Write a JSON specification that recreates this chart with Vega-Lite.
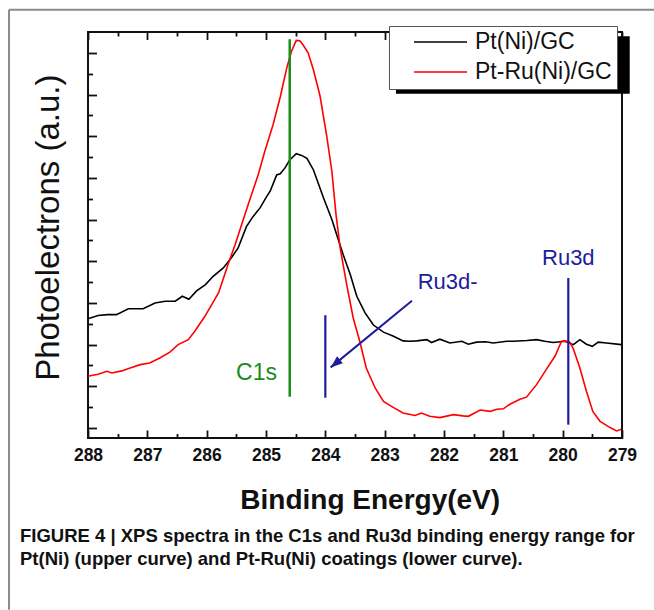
{
  "$schema": "https://vega.github.io/schema/vega-lite/v6.json",
  "width": 534,
  "height": 406,
  "autosize": {"type": "none"},
  "padding": {"left": 88, "top": 32, "right": 32, "bottom": 172},
  "background": "white",
  "config": {
    "view": {"stroke": "#111111", "strokeWidth": 2},
    "font": "Liberation Sans"
  },
  "title": {
    "text": ["FIGURE 4 | XPS spectra in the C1s and Ru3d binding energy range for", "Pt(Ni) (upper curve) and Pt-Ru(Ni) coatings (lower curve)."],
    "orient": "bottom",
    "anchor": "start",
    "frame": "group",
    "align": "left",
    "baseline": "top",
    "dx": -68,
    "offset": -84,
    "font": "Liberation Sans",
    "fontSize": 18.5,
    "fontWeight": "bold",
    "color": "#111111",
    "lineHeight": 23
  },
  "datasets": {
    "spectra": [
      {"E": 288.00, "I": 2.62, "s": "Pt(Ni)/GC"},
      {"E": 287.83, "I": 2.70, "s": "Pt(Ni)/GC"},
      {"E": 287.67, "I": 2.72, "s": "Pt(Ni)/GC"},
      {"E": 287.52, "I": 2.72, "s": "Pt(Ni)/GC"},
      {"E": 287.32, "I": 2.86, "s": "Pt(Ni)/GC"},
      {"E": 287.07, "I": 2.86, "s": "Pt(Ni)/GC"},
      {"E": 286.87, "I": 3.00, "s": "Pt(Ni)/GC"},
      {"E": 286.70, "I": 3.04, "s": "Pt(Ni)/GC"},
      {"E": 286.53, "I": 3.04, "s": "Pt(Ni)/GC"},
      {"E": 286.41, "I": 3.16, "s": "Pt(Ni)/GC"},
      {"E": 286.30, "I": 3.09, "s": "Pt(Ni)/GC"},
      {"E": 286.17, "I": 3.29, "s": "Pt(Ni)/GC"},
      {"E": 286.02, "I": 3.44, "s": "Pt(Ni)/GC"},
      {"E": 285.89, "I": 3.64, "s": "Pt(Ni)/GC"},
      {"E": 285.72, "I": 3.84, "s": "Pt(Ni)/GC"},
      {"E": 285.58, "I": 4.09, "s": "Pt(Ni)/GC"},
      {"E": 285.47, "I": 4.32, "s": "Pt(Ni)/GC"},
      {"E": 285.33, "I": 4.83, "s": "Pt(Ni)/GC"},
      {"E": 285.22, "I": 5.07, "s": "Pt(Ni)/GC"},
      {"E": 285.10, "I": 5.28, "s": "Pt(Ni)/GC"},
      {"E": 284.99, "I": 5.55, "s": "Pt(Ni)/GC"},
      {"E": 284.93, "I": 5.68, "s": "Pt(Ni)/GC"},
      {"E": 284.82, "I": 6.07, "s": "Pt(Ni)/GC"},
      {"E": 284.76, "I": 6.10, "s": "Pt(Ni)/GC"},
      {"E": 284.68, "I": 6.24, "s": "Pt(Ni)/GC"},
      {"E": 284.60, "I": 6.43, "s": "Pt(Ni)/GC"},
      {"E": 284.49, "I": 6.58, "s": "Pt(Ni)/GC"},
      {"E": 284.40, "I": 6.54, "s": "Pt(Ni)/GC"},
      {"E": 284.31, "I": 6.47, "s": "Pt(Ni)/GC"},
      {"E": 284.20, "I": 6.19, "s": "Pt(Ni)/GC"},
      {"E": 284.03, "I": 5.52, "s": "Pt(Ni)/GC"},
      {"E": 283.89, "I": 5.00, "s": "Pt(Ni)/GC"},
      {"E": 283.80, "I": 4.60, "s": "Pt(Ni)/GC"},
      {"E": 283.70, "I": 4.16, "s": "Pt(Ni)/GC"},
      {"E": 283.58, "I": 3.68, "s": "Pt(Ni)/GC"},
      {"E": 283.47, "I": 3.16, "s": "Pt(Ni)/GC"},
      {"E": 283.33, "I": 2.76, "s": "Pt(Ni)/GC"},
      {"E": 283.19, "I": 2.47, "s": "Pt(Ni)/GC"},
      {"E": 283.02, "I": 2.30, "s": "Pt(Ni)/GC"},
      {"E": 282.85, "I": 2.20, "s": "Pt(Ni)/GC"},
      {"E": 282.69, "I": 2.09, "s": "Pt(Ni)/GC"},
      {"E": 282.58, "I": 2.08, "s": "Pt(Ni)/GC"},
      {"E": 282.46, "I": 2.09, "s": "Pt(Ni)/GC"},
      {"E": 282.29, "I": 2.12, "s": "Pt(Ni)/GC"},
      {"E": 282.21, "I": 2.05, "s": "Pt(Ni)/GC"},
      {"E": 282.07, "I": 2.13, "s": "Pt(Ni)/GC"},
      {"E": 281.90, "I": 2.04, "s": "Pt(Ni)/GC"},
      {"E": 281.70, "I": 2.08, "s": "Pt(Ni)/GC"},
      {"E": 281.59, "I": 2.01, "s": "Pt(Ni)/GC"},
      {"E": 281.45, "I": 2.06, "s": "Pt(Ni)/GC"},
      {"E": 281.30, "I": 2.07, "s": "Pt(Ni)/GC"},
      {"E": 281.17, "I": 2.04, "s": "Pt(Ni)/GC"},
      {"E": 280.94, "I": 2.08, "s": "Pt(Ni)/GC"},
      {"E": 280.83, "I": 2.08, "s": "Pt(Ni)/GC"},
      {"E": 280.60, "I": 2.10, "s": "Pt(Ni)/GC"},
      {"E": 280.44, "I": 2.12, "s": "Pt(Ni)/GC"},
      {"E": 280.30, "I": 2.08, "s": "Pt(Ni)/GC"},
      {"E": 280.16, "I": 2.05, "s": "Pt(Ni)/GC"},
      {"E": 279.96, "I": 2.08, "s": "Pt(Ni)/GC"},
      {"E": 279.82, "I": 2.00, "s": "Pt(Ni)/GC"},
      {"E": 279.71, "I": 2.12, "s": "Pt(Ni)/GC"},
      {"E": 279.60, "I": 2.01, "s": "Pt(Ni)/GC"},
      {"E": 279.50, "I": 1.96, "s": "Pt(Ni)/GC"},
      {"E": 279.40, "I": 2.06, "s": "Pt(Ni)/GC"},
      {"E": 279.26, "I": 2.04, "s": "Pt(Ni)/GC"},
      {"E": 279.01, "I": 2.00, "s": "Pt(Ni)/GC"},
      {"E": 288.00, "I": 1.24, "s": "Pt-Ru(Ni)/GC"},
      {"E": 287.83, "I": 1.29, "s": "Pt-Ru(Ni)/GC"},
      {"E": 287.68, "I": 1.36, "s": "Pt-Ru(Ni)/GC"},
      {"E": 287.60, "I": 1.32, "s": "Pt-Ru(Ni)/GC"},
      {"E": 287.43, "I": 1.37, "s": "Pt-Ru(Ni)/GC"},
      {"E": 287.29, "I": 1.44, "s": "Pt-Ru(Ni)/GC"},
      {"E": 287.12, "I": 1.52, "s": "Pt-Ru(Ni)/GC"},
      {"E": 286.96, "I": 1.56, "s": "Pt-Ru(Ni)/GC"},
      {"E": 286.79, "I": 1.68, "s": "Pt-Ru(Ni)/GC"},
      {"E": 286.62, "I": 1.82, "s": "Pt-Ru(Ni)/GC"},
      {"E": 286.48, "I": 2.00, "s": "Pt-Ru(Ni)/GC"},
      {"E": 286.31, "I": 2.12, "s": "Pt-Ru(Ni)/GC"},
      {"E": 286.20, "I": 2.32, "s": "Pt-Ru(Ni)/GC"},
      {"E": 286.03, "I": 2.68, "s": "Pt-Ru(Ni)/GC"},
      {"E": 285.80, "I": 3.24, "s": "Pt-Ru(Ni)/GC"},
      {"E": 285.64, "I": 3.92, "s": "Pt-Ru(Ni)/GC"},
      {"E": 285.52, "I": 4.40, "s": "Pt-Ru(Ni)/GC"},
      {"E": 285.30, "I": 5.36, "s": "Pt-Ru(Ni)/GC"},
      {"E": 285.13, "I": 6.08, "s": "Pt-Ru(Ni)/GC"},
      {"E": 285.02, "I": 6.64, "s": "Pt-Ru(Ni)/GC"},
      {"E": 284.88, "I": 7.28, "s": "Pt-Ru(Ni)/GC"},
      {"E": 284.76, "I": 7.94, "s": "Pt-Ru(Ni)/GC"},
      {"E": 284.65, "I": 8.64, "s": "Pt-Ru(Ni)/GC"},
      {"E": 284.57, "I": 9.04, "s": "Pt-Ru(Ni)/GC"},
      {"E": 284.49, "I": 9.30, "s": "Pt-Ru(Ni)/GC"},
      {"E": 284.43, "I": 9.29, "s": "Pt-Ru(Ni)/GC"},
      {"E": 284.38, "I": 9.20, "s": "Pt-Ru(Ni)/GC"},
      {"E": 284.29, "I": 9.00, "s": "Pt-Ru(Ni)/GC"},
      {"E": 284.20, "I": 8.59, "s": "Pt-Ru(Ni)/GC"},
      {"E": 284.09, "I": 7.97, "s": "Pt-Ru(Ni)/GC"},
      {"E": 283.98, "I": 7.04, "s": "Pt-Ru(Ni)/GC"},
      {"E": 283.89, "I": 6.16, "s": "Pt-Ru(Ni)/GC"},
      {"E": 283.82, "I": 5.12, "s": "Pt-Ru(Ni)/GC"},
      {"E": 283.75, "I": 4.32, "s": "Pt-Ru(Ni)/GC"},
      {"E": 283.64, "I": 3.44, "s": "Pt-Ru(Ni)/GC"},
      {"E": 283.53, "I": 2.64, "s": "Pt-Ru(Ni)/GC"},
      {"E": 283.42, "I": 2.08, "s": "Pt-Ru(Ni)/GC"},
      {"E": 283.31, "I": 1.44, "s": "Pt-Ru(Ni)/GC"},
      {"E": 283.16, "I": 0.96, "s": "Pt-Ru(Ni)/GC"},
      {"E": 283.02, "I": 0.64, "s": "Pt-Ru(Ni)/GC"},
      {"E": 282.85, "I": 0.49, "s": "Pt-Ru(Ni)/GC"},
      {"E": 282.69, "I": 0.36, "s": "Pt-Ru(Ni)/GC"},
      {"E": 282.49, "I": 0.30, "s": "Pt-Ru(Ni)/GC"},
      {"E": 282.38, "I": 0.36, "s": "Pt-Ru(Ni)/GC"},
      {"E": 282.24, "I": 0.28, "s": "Pt-Ru(Ni)/GC"},
      {"E": 282.07, "I": 0.25, "s": "Pt-Ru(Ni)/GC"},
      {"E": 281.84, "I": 0.32, "s": "Pt-Ru(Ni)/GC"},
      {"E": 281.68, "I": 0.29, "s": "Pt-Ru(Ni)/GC"},
      {"E": 281.59, "I": 0.28, "s": "Pt-Ru(Ni)/GC"},
      {"E": 281.39, "I": 0.43, "s": "Pt-Ru(Ni)/GC"},
      {"E": 281.22, "I": 0.40, "s": "Pt-Ru(Ni)/GC"},
      {"E": 281.11, "I": 0.45, "s": "Pt-Ru(Ni)/GC"},
      {"E": 281.00, "I": 0.46, "s": "Pt-Ru(Ni)/GC"},
      {"E": 280.89, "I": 0.57, "s": "Pt-Ru(Ni)/GC"},
      {"E": 280.72, "I": 0.69, "s": "Pt-Ru(Ni)/GC"},
      {"E": 280.61, "I": 0.74, "s": "Pt-Ru(Ni)/GC"},
      {"E": 280.44, "I": 1.04, "s": "Pt-Ru(Ni)/GC"},
      {"E": 280.27, "I": 1.42, "s": "Pt-Ru(Ni)/GC"},
      {"E": 280.13, "I": 1.72, "s": "Pt-Ru(Ni)/GC"},
      {"E": 280.02, "I": 2.08, "s": "Pt-Ru(Ni)/GC"},
      {"E": 279.96, "I": 2.09, "s": "Pt-Ru(Ni)/GC"},
      {"E": 279.88, "I": 2.06, "s": "Pt-Ru(Ni)/GC"},
      {"E": 279.82, "I": 1.90, "s": "Pt-Ru(Ni)/GC"},
      {"E": 279.71, "I": 1.44, "s": "Pt-Ru(Ni)/GC"},
      {"E": 279.60, "I": 0.88, "s": "Pt-Ru(Ni)/GC"},
      {"E": 279.49, "I": 0.39, "s": "Pt-Ru(Ni)/GC"},
      {"E": 279.37, "I": 0.16, "s": "Pt-Ru(Ni)/GC"},
      {"E": 279.20, "I": 0.01, "s": "Pt-Ru(Ni)/GC"},
      {"E": 279.09, "I": -0.07, "s": "Pt-Ru(Ni)/GC"},
      {"E": 279.01, "I": -0.03, "s": "Pt-Ru(Ni)/GC"}
    ],
    "frame": [
      {"E": 289.331, "E2": 289.331, "I": 10.035, "I2": -4.36},
      {"E": 289.331, "E2": 278.46, "I": 10.035, "I2": 10.035}
    ],
    "shadow": [
      {"E": 282.81, "E2": 278.87, "I": 8.02, "I2": 9.4}
    ],
    "c1s": [
      {"E": 284.6, "I": 9.327, "I2": 0.751}
    ],
    "ru": [
      {"E": 284.0, "I": 2.706, "I2": 0.727},
      {"E": 279.905, "I": 3.598, "I2": 0.079}
    ],
    "arrow": [
      {"E": 282.54, "I": 3.054, "E2": 283.91, "I2": 1.454}
    ],
    "head": [
      {"E": 283.91, "I": 1.454}
    ],
    "labC": [
      {"E": 284.815, "I": 1.159, "t": "C1s"}
    ],
    "labRuMinus": [
      {"E": 282.443, "I": 3.334, "t": "Ru3d-"}
    ],
    "labRu": [
      {"E": 279.905, "I": 3.917, "t": "Ru3d"}
    ]
  },
  "layer": [
    {
      "data": {"name": "frame"},
      "mark": {"type": "rule", "color": "#8a8a8a", "strokeWidth": 2, "clip": false},
      "encoding": {
        "x": {"field": "E", "type": "quantitative", "scale": {"domain": [279, 288], "reverse": true, "nice": false, "zero": false}, "axis": null},
        "x2": {"field": "E2"},
        "y": {"field": "I", "type": "quantitative", "scale": {"domain": [-0.24, 9.5], "nice": false, "zero": false}, "axis": null},
        "y2": {"field": "I2"}
      }
    },
    {
      "data": {"name": "shadow"},
      "mark": {"type": "rect", "color": "#000000", "clip": false},
      "encoding": {
        "x": {"field": "E", "type": "quantitative", "axis": null},
        "x2": {"field": "E2"},
        "y": {"field": "I", "type": "quantitative", "axis": null},
        "y2": {"field": "I2"}
      }
    },
    {
      "data": {"name": "spectra"},
      "mark": {"type": "line", "strokeWidth": 1.6, "interpolate": "linear"},
      "encoding": {
        "x": {
          "field": "E", "type": "quantitative",
          "axis": {
            "orient": "bottom",
            "values": [279, 279.5, 280, 280.5, 281, 281.5, 282, 282.5, 283, 283.5, 284, 284.5, 285, 285.5, 286, 286.5, 287, 287.5, 288],
            "domain": false, "grid": false,
            "tickSize": {"condition": {"test": "datum.value % 1 !== 0", "value": -4.5}, "value": -8},
            "tickColor": "#111111", "tickWidth": 1.8,
            "labelExpr": "datum.value % 1 === 0 ? format(datum.value, 'd') : ''",
            "labelFlush": false, "labelOverlap": false,
            "labelFont": "Liberation Sans", "labelFontWeight": "bold", "labelFontSize": 17.5, "labelColor": "#111111",
            "labelPadding": 16,
            "title": "Binding Energy(eV)",
            "titleFont": "Liberation Sans", "titleFontSize": 28, "titleFontWeight": "bold", "titleColor": "#111111",
            "titleX": 281.7, "titleY": 70, "titleBaseline": "alphabetic", "titleAlign": "center", "titleAnchor": null
          }
        },
        "y": {
          "field": "I", "type": "quantitative",
          "axis": {
            "orient": "left",
            "values": [0, 0.5, 1, 1.5, 2, 2.5, 3, 3.5, 4, 4.5, 5, 5.5, 6, 6.5, 7, 7.5, 8, 8.5, 9],
            "domain": false, "grid": false, "labels": false,
            "tickSize": {"condition": {"test": "datum.value % 1 !== 0", "value": -4.5}, "value": -8.5},
            "tickColor": "#111111", "tickWidth": 1.8,
            "title": "Photoelectrons (a.u.)",
            "titleFont": "Liberation Sans", "titleFontSize": 33, "titleFontWeight": "normal", "titleColor": "#111111",
            "titleAngle": 270, "titleX": -30, "titleY": 195.2, "titleBaseline": "alphabetic", "titleAlign": "center"
          }
        },
        "color": {
          "field": "s", "type": "nominal",
          "scale": {"domain": ["Pt(Ni)/GC", "Pt-Ru(Ni)/GC"], "range": ["#000000", "#ff0000"]},
          "legend": {
            "orient": "none", "legendX": 301, "legendY": -6,
            "title": null,
            "symbolType": "stroke", "symbolSize": 2809, "symbolStrokeWidth": 1.6,
            "clipHeight": 23, "rowPadding": 6, "padding": 4.5,
            "symbolOffset": 19.5, "labelOffset": 7,
            "labelFont": "Liberation Sans", "labelFontSize": 23, "labelColor": "#111111", "labelLimit": 400,
            "strokeColor": "#555555", "fillColor": "#ffffff"
          }
        }
      }
    },
    {
      "data": {"name": "c1s"},
      "mark": {"type": "rule", "color": "#1a8c1a", "strokeWidth": 2.5},
      "encoding": {
        "x": {
          "field": "E", "type": "quantitative",
          "axis": {
            "orient": "top",
            "values": [279, 279.5, 280, 280.5, 281, 281.5, 282, 282.5, 283, 283.5, 284, 284.5, 285, 285.5, 286, 286.5, 287, 287.5, 288],
            "domain": false, "grid": false, "labels": false, "title": null,
            "tickSize": {"condition": {"test": "datum.value % 1 !== 0", "value": -4}, "value": -7.5},
            "tickColor": "#111111", "tickWidth": 1.8
          }
        },
        "y": {"field": "I", "type": "quantitative", "axis": null},
        "y2": {"field": "I2"}
      }
    },
    {
      "data": {"name": "ru"},
      "mark": {"type": "rule", "color": "#1c1c9c", "strokeWidth": 2.2},
      "encoding": {
        "x": {"field": "E", "type": "quantitative", "axis": null},
        "y": {"field": "I", "type": "quantitative", "axis": null},
        "y2": {"field": "I2"}
      }
    },
    {
      "data": {"name": "arrow"},
      "mark": {"type": "rule", "color": "#1c1c9c", "strokeWidth": 2},
      "encoding": {
        "x": {"field": "E", "type": "quantitative", "axis": null},
        "x2": {"field": "E2"},
        "y": {"field": "I", "type": "quantitative", "axis": null},
        "y2": {"field": "I2"}
      }
    },
    {
      "data": {"name": "head"},
      "mark": {"type": "point", "shape": "M0,0 L-0.75,2 L0.75,2 Z", "size": 144, "angle": 230.5, "filled": true, "color": "#1c1c9c", "opacity": 1, "strokeWidth": 0},
      "encoding": {
        "x": {"field": "E", "type": "quantitative", "axis": null},
        "y": {"field": "I", "type": "quantitative", "axis": null}
      }
    },
    {
      "data": {"name": "labC"},
      "mark": {"type": "text", "align": "right", "baseline": "alphabetic", "font": "Liberation Sans", "fontSize": 23, "color": "#1a8c1a"},
      "encoding": {
        "x": {"field": "E", "type": "quantitative", "axis": null},
        "y": {"field": "I", "type": "quantitative", "axis": null},
        "text": {"field": "t"}
      }
    },
    {
      "data": {"name": "labRuMinus"},
      "mark": {"type": "text", "align": "left", "baseline": "alphabetic", "font": "Liberation Sans", "fontSize": 22, "color": "#1c1c9c"},
      "encoding": {
        "x": {"field": "E", "type": "quantitative", "axis": null},
        "y": {"field": "I", "type": "quantitative", "axis": null},
        "text": {"field": "t"}
      }
    },
    {
      "data": {"name": "labRu"},
      "mark": {"type": "text", "align": "center", "baseline": "alphabetic", "font": "Liberation Sans", "fontSize": 22, "color": "#1c1c9c"},
      "encoding": {
        "x": {"field": "E", "type": "quantitative", "axis": null},
        "y": {"field": "I", "type": "quantitative", "axis": null},
        "text": {"field": "t"}
      }
    }
  ],
  "resolve": {"axis": {"x": "independent", "y": "independent"}}
}
